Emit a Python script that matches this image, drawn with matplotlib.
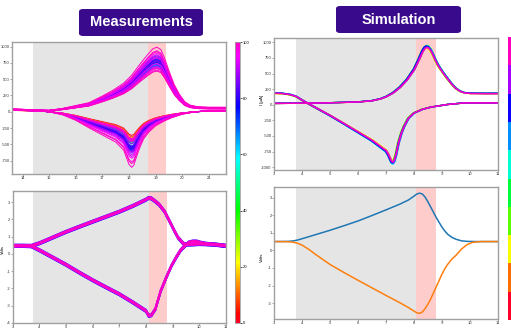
import matplotlib
matplotlib.use("Agg")
import matplotlib.pyplot as plt
import numpy as np
from matplotlib.colors import Normalize, ListedColormap
from matplotlib.colorbar import ColorbarBase
from matplotlib.patches import FancyBboxPatch

plt.rcParams["axes.unicode_minus"] = False
plt.rcParams["font.family"] = ["Liberation Sans", "DejaVu Sans"]

# ---------------- data ----------------
# Measurements, current vs time (base oxidation branch)
meas_up_x = [13.6, 14.0, 14.5, 15.0, 15.5, 16.0, 16.5, 17.0, 17.4, 17.8, 18.1, 18.4, 18.7, 18.9,
             19.05, 19.2, 19.35, 19.5, 19.7, 19.9, 20.1, 20.3, 20.6, 21.0, 21.65]
meas_up_y = [30, 28, 22, 18, 40, 75, 110, 190, 260, 345, 440, 570, 690, 760,
             780, 750, 640, 500, 330, 210, 120, 80, 60, 55, 55]
# base reduction branch
meas_low_x = [21.65, 21.0, 20.5, 20.0, 19.6, 19.3, 19.0, 18.75, 18.55, 18.4, 18.28, 18.18, 18.1,
              18.0, 17.8, 17.5, 17.0, 16.5, 16.0, 15.5, 15.0, 14.5, 14.0, 13.6]
meas_low_y = [15, 12, 0, -25, -60, -95, -140, -200, -270, -360, -450, -530, -550,
              -520, -380, -300, -230, -160, -85, -30, 0, 15, 25, 30]
# per-curve colour value and amplitude factors
meas_values = [0, 8, 15, 22, 30, 38, 45, 52,
               58, 62, 66, 70,
               74, 76, 78, 80, 82, 84, 86,
               87, 88, 89, 90, 91, 92, 93, 94,
               95, 96, 97, 98, 99, 100, 100, 99]
meas_up_scale = [1.0, 0.99, 1.0, 0.98, 1.0, 0.97, 0.96, 0.95,
                 0.92, 0.9, 0.93, 0.91,
                 0.97, 1.0, 1.02, 1.04, 0.98, 1.05, 1.0,
                 1.08, 0.94, 1.1, 0.9, 1.12, 0.88, 1.06, 0.95,
                 1.15, 0.85, 1.2, 0.82, 1.27, 0.8, 1.18, 0.86]
meas_low_scale = [0.66, 0.7, 0.74, 0.78, 0.82, 0.85, 0.88, 0.9,
                  0.95, 0.97, 1.0, 1.03,
                  1.0, 1.05, 0.98, 1.08, 1.02, 1.1, 0.96,
                  1.12, 0.9, 1.15, 0.85, 1.2, 0.8, 1.25, 0.78,
                  1.3, 0.76, 1.4, 0.8, 1.55, 0.75, 1.45, 0.82]

# Measurements, voltage
mv_up_x = [3.0, 3.4, 3.7, 4.0, 4.5, 5.0, 5.5, 6.0, 6.5, 7.0, 7.5, 8.0, 8.1, 8.2, 8.35, 8.5, 8.7,
           8.9, 9.05, 9.2, 9.4, 9.5, 9.7, 10.0, 10.5, 11.0]
mv_up_y = [0.47, 0.47, 0.47, 0.62, 0.95, 1.28, 1.58, 1.87, 2.16, 2.45, 2.78, 3.15, 3.25, 3.22,
           3.05, 2.85, 2.45, 1.85, 1.38, 0.95, 0.6, 0.55, 0.55, 0.58, 0.55, 0.47]
mv_low_x = [3.0, 3.4, 3.7, 4.0, 4.5, 5.0, 5.5, 6.0, 6.5, 7.0, 7.5, 8.0, 8.1, 8.2, 8.35, 8.55, 8.75,
            8.95, 9.15, 9.3, 9.48, 9.6, 9.75, 9.9, 10.05, 10.3, 10.6, 11.0]
mv_low_y = [0.47, 0.47, 0.45, 0.22, -0.2, -0.62, -1.08, -1.52, -1.93, -2.33, -2.8, -3.3, -3.58,
            -3.55, -3.2, -2.15, -1.4, -0.7, -0.15, 0.22, 0.5, 0.66, 0.72, 0.72, 0.65, 0.58, 0.55, 0.47]
mv_values = [78, 82, 88, 92, 96, 100, 100]
mv_offsets = [-0.07, 0.07, -0.05, 0.05, -0.025, 0.025, 0.0]

# Simulation, current
sim_a_x = [3, 4, 5, 6, 6.5, 6.8, 7, 7.25, 7.5, 7.75, 8, 8.15, 8.3, 8.38, 8.45, 8.52, 8.6, 8.68,
           8.76, 8.85, 8.95, 9.05, 9.2, 9.35, 9.5, 9.65, 9.8, 10, 10.5, 11]
sim_a_y = [22, 25, 32, 45, 65, 95, 128, 190, 280, 400, 560, 700, 850, 905, 925, 915, 870, 800,
           720, 640, 570, 505, 415, 330, 260, 215, 192, 182, 180, 180]
sim_b_x = [3, 3.3, 3.6, 3.8, 4.0, 4.3, 5, 5.5, 6, 6.5, 7, 7.08, 7.15, 7.2, 7.25, 7.3, 7.36, 7.45,
           7.55, 7.65, 7.8, 8.0, 8.3, 8.6, 9.2, 9.8, 11]
sim_b_y = [183, 180, 160, 130, 75, 0, -170, -300, -433, -566, -730, -790, -860, -905, -915, -880,
           -790, -600, -450, -340, -215, -130, -72, -37, 5, 30, 30]
sim_values = [0, 1, 2, 3, 4, 5, 6, 7, 8, 9]
sim_up_scale = [1.0, 1.01, 0.98, 1.02, 1.03, 1.02, 1.01, 1.02, 1.0, 0.99]
sim_low_scale = [1.0, 1.01, 0.97, 1.0, 1.02, 1.04, 1.03, 1.02, 1.01, 1.0]
sim_shift = [0.02, 0.0, -0.02, -0.03, 0.01, -0.01, 0.02, -0.02, 0.01, 0.0]

# Simulation, voltage
sv_x = [3, 3.5, 3.7, 3.85, 4, 4.25, 4.5, 5, 5.5, 6, 6.5, 7, 7.5, 7.8, 8.0, 8.1, 8.2, 8.3, 8.4,
        8.5, 8.6, 8.7, 8.8, 8.9, 9.0, 9.1, 9.2, 9.35, 9.5, 9.7, 9.9, 10.2, 11]
sv_up = [0.5, 0.51, 0.54, 0.59, 0.66, 0.78, 0.9, 1.14, 1.4, 1.67, 1.98, 2.3, 2.63, 2.86, 3.08,
         3.2, 3.25, 3.2, 3.02, 2.75, 2.45, 2.15, 1.85, 1.58, 1.32, 1.1, 0.92, 0.74, 0.63, 0.54,
         0.51, 0.5, 0.5]
sv_x2 = [3, 3.5, 3.7, 3.85, 4, 4.25, 4.5, 5, 5.5, 6, 6.5, 7, 7.5, 7.8, 8.0, 8.1, 8.2, 8.3, 8.4,
         8.5, 8.6, 8.7, 8.8, 8.9, 9.0, 9.1, 9.2, 9.35, 9.5, 9.7, 9.9, 10.1, 10.4, 11]
sv_low = [0.5, 0.49, 0.46, 0.4, 0.3, 0.05, -0.25, -0.8, -1.26, -1.7, -2.13, -2.56, -2.98, -3.25,
          -3.45, -3.55, -3.58, -3.5, -3.3, -3.05, -2.75, -2.4, -2.05, -1.7, -1.35, -1.05, -0.8,
          -0.5, -0.28, 0.08, 0.33, 0.46, 0.5, 0.5]

meas_xticks = [14, 15, 16, 17, 18, 19, 20, 21]
meas_yticks = [-750, -500, -250, 0, 250, 500, 750, 1000]
v_xticks = [3, 4, 5, 6, 7, 8, 9, 10, 11]
mv_yticks = [-4, -3, -2, -1, 0, 1, 2, 3]
sim_yticks = [-1000, -750, -500, -250, 0, 250, 500, 750, 1000]
sv_yticks = [-3, -2, -1, 0, 1, 2, 3]
cbar_ticks = [0, 20, 40, 60, 80, 100]

# ---------------- figure ----------------
W, H = 511, 332
fig = plt.figure(figsize=(W / 100, H / 100), dpi=100)
fig.patch.set_facecolor("white")

def fr(x0, y0, x1, y1):
    return [x0 / W, 1 - y1 / H, (x1 - x0) / W, (y1 - y0) / H]

cmap = plt.get_cmap("gist_rainbow")
norm = Normalize(0, 100)
dcols = cmap(np.linspace(0, 1, 10))
dcmap = ListedColormap(dcols)

def style(ax):
    for s in ax.spines.values():
        s.set_color("#a0a0a0")
        s.set_linewidth(1.0)
    ax.tick_params(labelsize=3.0, length=1.2, width=0.5, color="#808080", pad=0.5,
                   labelcolor="#333333")

ax1 = fig.add_axes(fr(12, 42, 226, 174))
ax2 = fig.add_axes(fr(12.7, 191, 226, 323))
ax3 = fig.add_axes(fr(274, 38, 498, 170))
ax4 = fig.add_axes(fr(274, 187, 498, 319))

# Measurement current
ax1.axvspan(14.4, 18.7, color="gray", alpha=0.2, lw=0)
ax1.axvspan(18.7, 19.4, color="red", alpha=0.2, lw=0)
for v, su, sl in zip(meas_values, meas_up_scale, meas_low_scale):
    c = cmap(norm(v))
    ax1.plot(meas_up_x, np.array(meas_up_y) * su, color=c, lw=0.7)
    ax1.plot(meas_low_x, np.array(meas_low_y) * sl, color=c, lw=0.7)
ax1.set_xlim(13.6, 21.65)
ax1.set_ylim(-955, 1070)
ax1.set_xticks(meas_xticks)
ax1.set_yticks(meas_yticks)
style(ax1)

# Measurement voltage
ax2.axvspan(3.77, 8.1, color="gray", alpha=0.2, lw=0)
ax2.axvspan(8.1, 8.8, color="red", alpha=0.2, lw=0)
for v, o in zip(mv_values, mv_offsets):
    c = cmap(norm(v))
    ax2.plot(mv_up_x, np.array(mv_up_y) + o, color=c, lw=1.3)
    ax2.plot(mv_low_x, np.array(mv_low_y) + o, color=c, lw=1.3)
ax2.set_xlim(3, 11)
ax2.set_ylim(-4, 3.65)
ax2.set_xticks(v_xticks)
ax2.set_yticks(mv_yticks)
style(ax2)

# Simulation current
ax3.axvspan(3.8, 8.07, color="gray", alpha=0.2, lw=0)
ax3.axvspan(8.07, 8.8, color="red", alpha=0.2, lw=0)
for v, su, sl, sh in zip(sim_values, sim_up_scale, sim_low_scale, sim_shift):
    c = dcols[v]
    ax3.plot(np.array(sim_a_x) + sh, np.array(sim_a_y) * su, color=c, lw=1.0)
    ax3.plot(np.array(sim_b_x) + sh, np.array(sim_b_y) * sl, color=c, lw=1.0)
ax3.set_xlim(3, 11)
ax3.set_ylim(-1045, 1070)
ax3.set_xticks(v_xticks)
ax3.set_yticks(sim_yticks)
style(ax3)

# Simulation voltage
ax4.axvspan(3.8, 8.07, color="gray", alpha=0.2, lw=0)
ax4.axvspan(8.07, 8.8, color="red", alpha=0.2, lw=0)
ax4.plot(sv_x, sv_up, color="C0", lw=1.1)
ax4.plot(sv_x2, sv_low, color="C1", lw=1.1)
ax4.set_xlim(3, 11)
ax4.set_ylim(-3.9, 3.6)
ax4.set_xticks(v_xticks)
ax4.set_yticks(sv_yticks)
style(ax4)

# colorbars
cax1 = fig.add_axes(fr(235, 42, 240, 323))
cb1 = ColorbarBase(cax1, cmap=cmap, norm=norm, ticks=cbar_ticks)
cb1.outline.set_edgecolor("#a0a0a0")
cb1.outline.set_linewidth(0.6)
cax1.tick_params(labelsize=3.0, length=1.5, width=0.5, pad=0.8)

cax2 = fig.add_axes(fr(508, 37, 520, 320))
cb2 = ColorbarBase(cax2, cmap=dcmap, norm=Normalize(0, 100))
cb2.outline.set_visible(False)
cax2.set_yticks([])

# axis labels
fig.text(262 / W, 1 - 100 / H, "I [µA]", rotation=90, fontsize=3.2, ha="center", va="center")
fig.text(262 / W, 1 - 257 / H, "Volts", rotation=90, fontsize=3.2, ha="center", va="center")
fig.text(2.5 / W, 1 - 250 / H, "Volts", rotation=90, fontsize=3.0, ha="center", va="center")

# title boxes
def title_box(x0, y0, x1, y1, text):
    bx = FancyBboxPatch((x0 / W, 1 - y1 / H), (x1 - x0) / W, (y1 - y0) / H,
                        boxstyle="round,pad=0,rounding_size=0.008",
                        transform=fig.transFigure, facecolor="#3a0a8c",
                        edgecolor="none", zorder=5)
    fig.patches.append(bx)
    fig.text((x0 + x1) / 2 / W, 1 - (y0 + y1) / 2 / H, text, color="white",
             fontsize=10.5, fontweight="bold", family="Liberation Sans",
             ha="center", va="center", zorder=6)

title_box(79, 9, 203, 36, "Measurements")
title_box(336, 6, 461, 33, "Simulation")

fig.savefig("out.png", dpi=100, facecolor="white")
